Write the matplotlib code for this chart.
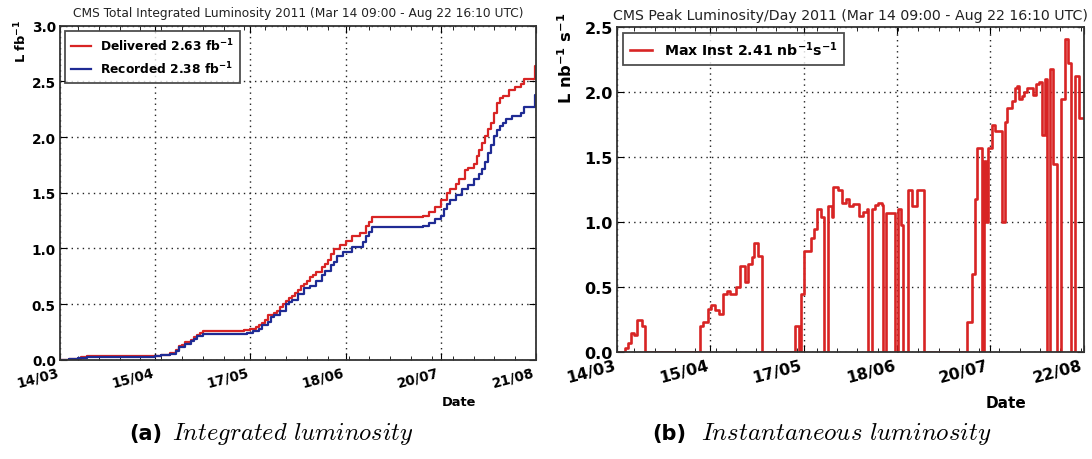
import matplotlib
matplotlib.use("Agg")
import matplotlib.pyplot as plt
from matplotlib.ticker import FixedLocator, MultipleLocator

# ---------------- data (days since 14/03 09:00) ----------------
left_tick_days = [0, 32, 64, 96, 128, 160]
left_tick_labels = ["14/03", "15/04", "17/05", "18/06", "20/07", "21/08"]
right_tick_days = [0, 32.2, 64.4, 96.6, 128.8, 161]
right_tick_labels = ["14/03", "15/04", "17/05", "18/06", "20/07", "22/08"]
minor_tick_days = list(range(6, 162, 7))

delivered_days = [0, 3, 5, 7, 9, 32, 34, 37, 39, 40, 41, 42, 44, 45, 46, 47, 48,
                  62, 64, 66, 67, 68, 69, 70, 72, 73, 74, 75, 76, 77, 78, 79, 80,
                  81, 82, 83, 84, 85, 86, 88, 89, 90, 91, 92, 94, 96, 98, 101, 103,
                  104, 105, 122, 124, 126, 128, 130, 131, 133, 134, 136, 137, 139,
                  140, 141, 142, 143, 144, 145, 146, 147, 148, 149, 151, 153, 155,
                  156, 159.6, 161.3]
delivered_vals = [0.0, 0.005, 0.01, 0.02, 0.03, 0.035, 0.045, 0.06, 0.09, 0.12, 0.13,
                  0.16, 0.18, 0.20, 0.22, 0.24, 0.26, 0.265, 0.28, 0.29, 0.31, 0.33,
                  0.36, 0.40, 0.42, 0.44, 0.47, 0.50, 0.53, 0.55, 0.57, 0.60, 0.63,
                  0.66, 0.68, 0.71, 0.74, 0.76, 0.79, 0.83, 0.86, 0.90, 0.95, 0.99,
                  1.03, 1.07, 1.11, 1.14, 1.20, 1.24, 1.28, 1.29, 1.33, 1.37, 1.43,
                  1.50, 1.53, 1.58, 1.62, 1.70, 1.72, 1.76, 1.83, 1.88, 1.95, 2.01,
                  2.07, 2.13, 2.22, 2.31, 2.35, 2.37, 2.42, 2.45, 2.48, 2.52, 2.64, 2.64]

recorded_days = [0, 3, 6, 9, 32, 34, 37, 39, 40, 42, 44, 45, 46, 48, 63, 65, 67, 68,
                 70, 71, 72, 74, 76, 77, 78, 80, 82, 84, 86, 88, 89, 91, 92, 93, 95,
                 98, 102, 103, 104, 105, 122, 124, 126, 128, 129, 130, 131, 133, 135,
                 137, 139, 141, 142, 143, 144, 145, 146, 147, 148, 149, 150, 152, 155,
                 156, 159.6, 161.3]
recorded_vals = [0.0, 0.005, 0.015, 0.025, 0.03, 0.04, 0.05, 0.08, 0.11, 0.14, 0.17,
                 0.19, 0.21, 0.235, 0.24, 0.26, 0.28, 0.31, 0.34, 0.38, 0.40, 0.44,
                 0.50, 0.52, 0.54, 0.59, 0.64, 0.66, 0.71, 0.76, 0.80, 0.85, 0.88,
                 0.93, 0.97, 1.01, 1.06, 1.11, 1.15, 1.19, 1.20, 1.23, 1.26, 1.29,
                 1.35, 1.40, 1.43, 1.48, 1.53, 1.57, 1.62, 1.67, 1.71, 1.78, 1.86,
                 1.93, 2.01, 2.06, 2.10, 2.13, 2.16, 2.19, 2.22, 2.27, 2.38, 2.38]

peak_days = [0, 2.8, 3.7, 4.7, 5.9, 6.8, 8.5, 9.7, 28.6, 29.6, 31.3, 32.5, 33.8,
             35.3, 36.5, 37.8, 39.0, 41.0, 42.4, 44.2, 45.3, 46.5, 47.4, 48.8, 49.9,
             61.4, 62.9, 63.6, 64.7, 66.9, 68.0, 68.9, 70.5, 71.5, 72.9, 74.1, 74.7,
             76.4, 77.6, 79.1, 80.2, 81.6, 83.6, 85.0, 86.2, 86.5, 87.9, 89.1, 90.2,
             91.4, 91.7, 92.9, 95.9, 97.1, 97.9, 98.6, 100.4, 101.7, 103.4, 106.0,
             120.7, 122.4, 123.6, 124.4, 125.9, 126.5, 127.4, 128.2, 129.3, 130.5,
             132.8, 133.9, 134.7, 136.2, 137.4, 138.2, 138.9, 139.7, 140.5, 141.4,
             143.5, 144.7, 145.8, 146.6, 147.7, 148.3, 149.5, 150.6, 151.7, 153.1,
             154.6, 155.8, 156.6, 158.1, 159.6, 161.3]
peak_vals = [0.0, 0.03, 0.07, 0.15, 0.13, 0.25, 0.20, 0.0, 0.20, 0.23, 0.33, 0.36,
             0.32, 0.29, 0.45, 0.47, 0.45, 0.50, 0.66, 0.54, 0.68, 0.73, 0.84, 0.74,
             0.0, 0.20, 0.0, 0.45, 0.78, 0.88, 0.95, 1.10, 1.04, 0.0, 1.12, 1.04,
             1.27, 1.25, 1.15, 1.18, 1.12, 1.14, 1.05, 1.08, 1.10, 0.0, 1.10, 1.13,
             1.15, 1.13, 0.0, 1.07, 0.0, 1.10, 0.98, 0.0, 1.25, 1.12, 1.25, 0.0,
             0.23, 0.60, 1.18, 1.57, 0.0, 1.47, 1.00, 1.57, 1.75, 1.70, 1.00, 1.77,
             1.88, 1.93, 2.03, 2.05, 1.95, 1.97, 2.00, 2.03, 1.98, 2.06, 2.08, 1.67,
             2.10, 0.0, 2.18, 1.45, 0.0, 1.95, 2.41, 2.22, 0.0, 2.12, 1.80, 1.80]

RED = "#d82424"
BLUE = "#1f2b94"

plt.rcParams["font.family"] = ["DejaVu Sans"]
fig = plt.figure(figsize=(10.92, 4.6), dpi=100)

ax1 = fig.add_axes([60/1092, 1-360.7/460, 476/1092, 334/460])
ax2 = fig.add_axes([617/1092, 1-353/460, 466.5/1092, 325/460])


def style(ax, xticks, xlabels, xmax, ymax, fs):
    ax.set_xlim(0, xmax)
    ax.set_ylim(0, ymax)
    ax.set_xticks(xticks)
    ax.set_xticklabels(xlabels, rotation=15, ha="right", fontsize=fs, fontweight="bold")
    ax.xaxis.set_minor_locator(FixedLocator(minor_tick_days))
    ax.yaxis.set_major_locator(MultipleLocator(0.5))
    ax.set_yticks(ax.get_yticks())
    ax.set_yticklabels([f"{v:.1f}" for v in ax.get_yticks()], fontsize=fs,
                       fontweight="bold")
    ax.set_ylim(0, ymax)
    ax.tick_params(which="both", direction="in", top=True, right=True)
    ax.tick_params(which="major", length=5, width=0.8, pad=3)
    ax.tick_params(which="minor", length=3, width=0.6)
    ax.tick_params(axis="x", pad=4)
    ax.grid(True, which="major", linestyle=(0, (1, 3)), color="#222222", linewidth=1.0)
    for sp in ax.spines.values():
        sp.set_color("#333333")
        sp.set_linewidth(1.3)


style(ax1, left_tick_days, left_tick_labels, 160, 3.0, 9.8)
style(ax2, right_tick_days, right_tick_labels, 161, 2.5, 11.5)

ax1.step(delivered_days, delivered_vals, where="post", color=RED, lw=1.6,
         label=r"Delivered 2.63 fb$^{\mathbf{-1}}$")
ax1.step(recorded_days, recorded_vals, where="post", color=BLUE, lw=1.6,
         label=r"Recorded 2.38 fb$^{\mathbf{-1}}$")
ax2.step(peak_days, peak_vals, where="post", color=RED, lw=1.9,
         label=r"Max Inst 2.41 nb$^{\mathbf{-1}}$s$^{\mathbf{-1}}$")

for ax, lfs in ((ax1, 8.8), (ax2, 10.2)):
    leg = ax.legend(loc="upper left", prop=dict(size=lfs, weight="bold"),
                    fancybox=False, frameon=True, handlelength=1.6,
                    borderaxespad=0.4, borderpad=0.5, labelspacing=0.55)
    leg.get_frame().set_edgecolor("#222222")
    leg.get_frame().set_linewidth(1.3)

ax1.set_title("CMS Total Integrated Luminosity 2011 (Mar 14 09:00 - Aug 22 16:10 UTC)",
              fontsize=8.8, pad=7, color="#222222")
ax2.set_title("CMS Peak Luminosity/Day 2011 (Mar 14 09:00 - Aug 22 16:10 UTC)",
              fontsize=10.2, pad=6, color="#222222")

ax1.set_ylabel(r"L fb$^{\mathbf{-1}}$", fontsize=9.4, fontweight="bold", loc="top")
ax1.yaxis.set_label_coords(-0.064, 1.02)
ax2.set_ylabel(r"L nb$^{\mathbf{-1}}$ s$^{\mathbf{-1}}$", fontsize=11.7,
               fontweight="bold", loc="top")
ax2.yaxis.set_label_coords(-0.090, 1.046)

ax1.set_xlabel("Date", fontsize=9.4, fontweight="bold")
ax1.xaxis.set_label_coords(0.839, -0.106)
ax2.set_xlabel("Date", fontsize=11, fontweight="bold")
ax2.xaxis.set_label_coords(0.833, -0.132)

# captions
fig.text(129/1092, 1-434/460, "(a)", fontsize=15, fontweight="bold",
         ha="left", va="center")
fig.text(172/1092, 1-434/460, r"$\mathit{Integrated\ luminosity}$", fontsize=17.6,
         ha="left", va="center", math_fontfamily="cm")
fig.text(652/1092, 1-434/460, "(b)", fontsize=15, fontweight="bold",
         ha="left", va="center")
fig.text(701/1092, 1-434/460, r"$\mathit{Instantaneous\ luminosity}$", fontsize=17.9,
         ha="left", va="center", math_fontfamily="cm")

fig.savefig("out.png", dpi=100)
